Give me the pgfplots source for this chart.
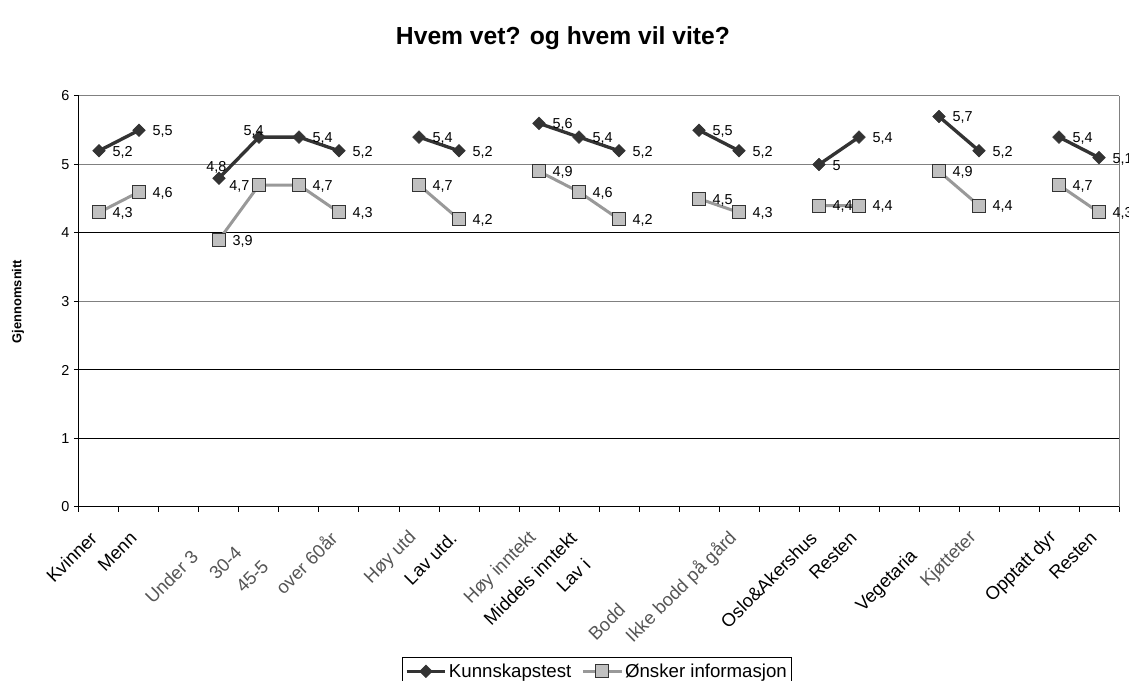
\documentclass[border=0pt]{standalone}
\usepackage{fontspec}
\setmainfont{Liberation Sans}
\usepackage{pgfplots}
\pgfplotsset{compat=1.18}
\usepackage{pgfplotstable}

\definecolor{dark}{HTML}{333333}
\definecolor{lgrey}{HTML}{999999}
\definecolor{sqfill}{HTML}{C0C0C0}
\definecolor{blurtxt}{HTML}{555555}

\newcommand\datafont{\fontsize{10.8}{12}\selectfont}
\newcommand\tickxfont{\fontsize{13.8}{16}\selectfont}
\newcommand\legfont{\fontsize{14}{16}\selectfont}
\newcommand\titlefont{\fontsize{18.5}{22}\selectfont\bfseries}
\newcommand\ylabfont{\fontsize{9.7}{11}\selectfont\bfseries}

% Kunnskapstest (nan = gap between groups)
\pgfplotstableread{
x y lab
0 5.2 5,2
1 5.5 5,5
2 nan x
3 4.8 4,8
4 5.4 5,4
5 5.4 5,4
6 5.2 5,2
7 nan x
8 5.4 5,4
9 5.2 5,2
10 nan x
11 5.6 5,6
12 5.4 5,4
13 5.2 5,2
14 nan x
15 5.5 5,5
16 5.2 5,2
17 nan x
18 5.0 5
19 5.4 5,4
20 nan x
21 5.7 5,7
22 5.2 5,2
23 nan x
24 5.4 5,4
25 5.1 5,1
}\kunn

% Onsker informasjon
\pgfplotstableread{
x y lab
0 4.3 4,3
1 4.6 4,6
2 nan x
3 3.9 3,9
4 4.7 4,7
5 4.7 4,7
6 4.3 4,3
7 nan x
8 4.7 4,7
9 4.2 4,2
10 nan x
11 4.9 4,9
12 4.6 4,6
13 4.2 4,2
14 nan x
15 4.5 4,5
16 4.3 4,3
17 nan x
18 4.4 4,4
19 4.4 4,4
20 nan x
21 4.9 4,9
22 4.4 4,4
23 nan x
24 4.7 4,7
25 4.3 4,3
}\onsker

\pgfplotsset{
  lbl/.style={
    forget plot, draw=none, mark=none,
    nodes near coords,
    point meta=explicit symbolic,
    every node near coord/.append style={font=\datafont, inner sep=0pt, text=black},
  }
}

\begin{document}
\begin{tikzpicture}
\begin{axis}[
  scale only axis, width=780pt, height=308.25pt,
  xmin=-0.5, xmax=25.5, ymin=0, ymax=6,
  axis lines*=left,
  axis line style={-, line width=0.75pt, black},
  tick align=outside, major tick length=3.75pt,
  tick style={black, line width=0.75pt},
  xtick={-0.5,0.5,...,25.5}, xticklabels={},
  extra x ticks={0,1,3,4,5,6,8,9,11,12,13,15,16,18,19,21,22,24,25},
  extra x tick labels={Kvinner, Menn,
    {\textcolor{blurtxt}{Under 3}\kern20pt},
    {\textcolor{blurtxt}{30-4}\kern16pt},
    {\textcolor{blurtxt}{45-5}\kern30pt},
    {\textcolor{blurtxt}{over 60år}},
    {\textcolor{blurtxt}{Høy utd}}, Lav utd.,
    {\textcolor{blurtxt}{Høy inntekt}}, Middels inntekt,
    {Lav i\kern28pt},
    {\textcolor{blurtxt}{Bodd}\kern76pt},
    {\textcolor{blurtxt}{Ikke bodd på gård}},
    Oslo\&Akershus, Resten,
    {Vegetaria\kern20pt},
    {\textcolor{blurtxt}{Kjøtteter}},
    Opptatt dyr, Resten},
  extra x tick style={major tick length=0pt, grid=none,
    xticklabel style={xshift=-4pt, yshift=-21pt, rotate=45, anchor=east, inner sep=0pt, font=\tickxfont}},
  ytick={0,1,2,4},
  extra y ticks={3,5,6},
  extra y tick style={grid=major, major grid style={black!50, line width=0.75pt}},
  ymajorgrids, major grid style={black, line width=0.75pt},
  yticklabel style={font=\datafont},
  /pgf/number format/assume math mode=true,
  unbounded coords=jump, clip=false,
  title={Hvem vet? og hvem vil vite?},
  title style={font=\titlefont, at={(0.4654,1.106)}, anchor=base},
  ylabel={Gjennomsnitt},
  ylabel style={font=\ylabfont, at={(axis description cs:-0.0587,0.5)}, anchor=center},
  legend columns=2,
  legend style={at={(0.498,-0.365)}, anchor=north, draw=black, line width=0.75pt,
    font=\legfont, inner xsep=2pt, inner ysep=3pt,
    nodes={inner sep=1.5pt},
    /tikz/every even column/.append style={column sep=6pt}},
  legend image code/.code={\draw[mark repeat=2,mark phase=2,#1] plot coordinates {(0pt,0pt) (14.5pt,0pt) (29pt,0pt)};},
]
\addplot[color=dark, line width=2.5pt, mark=square*, mark size=3.35pt,
  mark options={rotate=45, fill=dark, draw=dark, line width=0.4pt, solid}]
  table[x=x, y=y] {\kunn};
\addlegendentry{Kunnskapstest}
\addplot[color=lgrey, line width=2.25pt, mark=square*, mark size=4.9pt,
  mark options={fill=sqfill, draw=dark, line width=0.75pt, solid}]
  table[x=x, y=y] {\onsker};
\addlegendentry{Ønsker informasjon}
% data labels to the right of the points
\addplot[lbl, every node near coord/.append style={anchor=west, xshift=10pt, yshift=-1pt},
  restrict expr to domain={\coordindex}{0:2}] table[x=x, y=y, meta=lab] {\kunn};
\addplot[lbl, every node near coord/.append style={anchor=west, xshift=10pt, yshift=-1pt},
  restrict expr to domain={\coordindex}{5:25}] table[x=x, y=y, meta=lab] {\kunn};
\addplot[lbl, every node near coord/.append style={anchor=west, xshift=10pt, yshift=-1pt},
  restrict expr to domain={\coordindex}{0:3}] table[x=x, y=y, meta=lab] {\onsker};
\addplot[lbl, every node near coord/.append style={anchor=west, xshift=10pt, yshift=-1pt},
  restrict expr to domain={\coordindex}{5:25}] table[x=x, y=y, meta=lab] {\onsker};
% special label positions
\addplot[lbl, every node near coord/.append style={anchor=center, xshift=-2pt, yshift=8pt}]
  coordinates {(3,4.8) [4,8]};
\addplot[lbl, every node near coord/.append style={anchor=center, xshift=-4pt, yshift=4.5pt}]
  coordinates {(4,5.4) [5,4]};
\addplot[lbl, every node near coord/.append style={anchor=east, xshift=-7pt, yshift=-1pt}]
  coordinates {(4,4.7) [4,7]};
\draw[black!50, line width=0.75pt] (rel axis cs:1,0) -- (rel axis cs:1,1);
\end{axis}
\pgfresetboundingbox
\useasboundingbox (-59.25pt,-130.5pt) rectangle (787.5pt,380.25pt);
\end{tikzpicture}
\end{document}
